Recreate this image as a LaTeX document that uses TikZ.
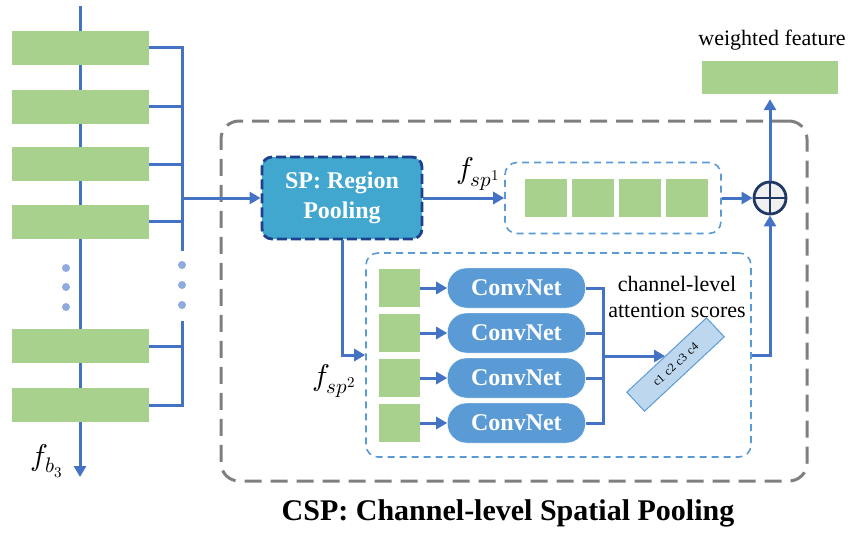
\documentclass[tikz,border=0pt]{standalone}
\usepackage{fontspec}
\usepackage{unicode-math}
\setmainfont{Liberation Serif}
\setmathfont{Latin Modern Math}
\usetikzlibrary{arrows.meta, positioning}
\definecolor{featgreen}{HTML}{A9D18E}
\definecolor{linkblue}{HTML}{4472C4}
\definecolor{dotblue}{HTML}{8FAADC}
\definecolor{spfill}{HTML}{41A7CF}
\definecolor{spdraw}{HTML}{1F3F8F}
\definecolor{convblue}{HTML}{5B9BD5}
\definecolor{navy}{HTML}{203864}
\definecolor{attfill}{HTML}{BDD7EE}
\definecolor{frame}{HTML}{7F7F7F}

\begin{document}
\begin{tikzpicture}[x=1pt, y=-1pt,
            featbox/.style={fill=featgreen, inner sep=0pt},
            poolbox/.style={draw=convblue, dashed, line width=1.6pt,
                            dash pattern=on 7pt off 5pt, rounded corners=12pt},
            spbox/.style={draw=spdraw, fill=spfill, line width=2.8pt,
                          dash pattern=on 10pt off 4pt, rounded corners=10pt,
                          minimum width=160pt, minimum height=82pt, align=center,
                          text=white, font=\bfseries\fontsize{24}{30}\selectfont},
            convbox/.style={fill=convblue, draw=white, rounded corners=19pt,
                            minimum width=138pt, minimum height=40pt, inner sep=0pt,
                            text=white, font=\bfseries\fontsize{24}{28}\selectfont},
            dotnode/.style={circle, fill=dotblue, minimum size=8pt, inner sep=0pt},
            link/.style={draw=linkblue, line width=3pt},
            arr/.style={link, -{Triangle[length=11pt, width=12pt]}},
            lbl/.style={font=\fontsize{22}{26}\selectfont},
            mlbl/.style={font=\fontsize{30}{34}\selectfont, inner sep=0pt}
          ]
          \useasboundingbox (0,0) rectangle (864,533);
          % CSP frame
          \node[draw=frame, line width=3pt, dash pattern=on 17pt off 9pt,
                rounded corners=18pt, minimum width=586pt, minimum height=360pt]
                (csp) at (514,301) {};
          \node[font=\bfseries\fontsize{30}{34}\selectfont] (title) at (508,513)
                {CSP: Channel-level Spatial Pooling};
          % backbone features
          \coordinate (top) at (80,6);
          \coordinate (bot) at (80,477);
          \draw[arr] (top) -- (bot);
          \node[mlbl] (lb) at (47,461) {$f_{b_3}$};
          \foreach \i/\y in {1/47.5,2/106.5,3/164,4/221.5,5/346,6/405}
            \node[featbox, minimum width=137pt, minimum height=34pt] (f\i) at (80.5,\y) {};
          \foreach \y in {268,287,307} \node[dotnode] at (66,\y) {};
          \foreach \y in {265,285,305} \node[dotnode] at (182,\y) {};
          \coordinate (bm) at (182,251);
          \coordinate (bn) at (182,321);
          \coordinate (jn) at (182,198);
          \draw[link] (f1.east) -| (bm);
          \draw[link] (f6.east) -| (bn);
          \foreach \i in {2,3,4,5} \draw[link] (f\i.east) -- (f\i.east -| bm);
          % region pooling
          \node[spbox] (sp) at (342,198) {SP: Region\\Pooling};
          \draw[arr] (jn) -- (sp.west);
          \node[poolbox, minimum width=216pt, minimum height=71pt] (pool1) at (613,198) {};
          \node[featbox, minimum width=42pt, minimum height=38pt] (s1) at (546,198) {};
          \foreach \i [count=\j from 2] in {1,2,3}
            \node[featbox, minimum width=42pt, minimum height=38pt, right=4.5pt of s\i] (s\j) {};
          \draw[arr] (sp.east) -- (pool1.west);
          \node[mlbl] (l1) at (478,174) {$f_{sp^1}$};
          % sum and output
          \node[circle, draw=navy, fill=black!6, line width=2.8pt, minimum size=32pt] (sum) at (770,198) {};
          \draw[navy, line width=2.8pt] (sum.north) -- (sum.south) (sum.west) -- (sum.east);
          \node[featbox, minimum width=136pt, minimum height=33pt] (wf) at (770,77.5) {};
          \node[lbl] (wfl) at (772,40) {weighted feature};
          \draw[arr] (pool1.east) -- (sum.west);
          \draw[arr, shorten >=5pt] (sum.north) -- (wf.south);
          % channel-level branch
          \node[poolbox, minimum width=385pt, minimum height=204pt] (pool2) at (558.5,355) {};
          \draw[arr] (sp.south) |- (pool2.west);
          \node[mlbl] (l2) at (334,381) {$f_{sp^2}$};
          \foreach \i/\y in {1/288,2/333,3/378,4/423} {
            \node[featbox, minimum width=41pt, minimum height=38pt] (q\i) at (399.5,\y) {};
            \node[convbox, right=27pt of q\i] (cn\i) {ConvNet};
            \draw[arr] (q\i.east) -- (cn\i.west);
          }
          \coordinate (mb) at (603,423);
          \coordinate (mg) at (603,356);
          \coordinate (atin) at (665,356);
          \draw[link] (cn1.east) -| (mb) -- (cn4.east);
          \foreach \i in {2,3} \draw[link] (cn\i.east) -- (cn\i.east -| mb);
          \node[draw=convblue, fill=attfill, line width=1pt, rotate=43,
                minimum width=109pt, minimum height=26pt, inner sep=0pt,
                font=\fontsize{12}{14}\selectfont] (att) at (675.5,364.5) {c1\,\,c2\,\,c3\,\,c4};
          \draw[arr] (mg) -- (atin);
          \node[lbl, align=center] (attl) at (677,297) {channel-level\\attention scores};
          \draw[arr] (pool2.east) -| (sum.south);
        \end{tikzpicture}
\end{document}
